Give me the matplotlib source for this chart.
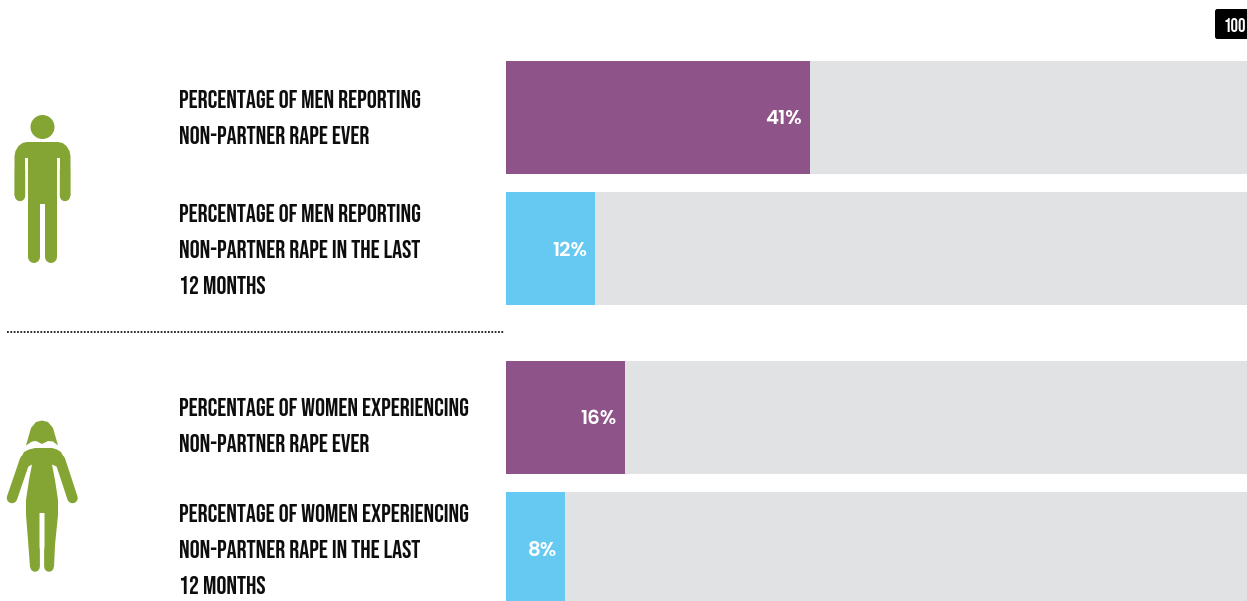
import matplotlib
matplotlib.use("Agg")
import matplotlib.pyplot as plt
from matplotlib.patches import Circle, Polygon, FancyBboxPatch

W, H = 1247, 601

# Data
labels = [
    "PERCENTAGE OF MEN REPORTING\nNON-PARTNER RAPE EVER",
    "PERCENTAGE OF MEN REPORTING\nNON-PARTNER RAPE IN THE LAST\n12 MONTHS",
    "PERCENTAGE OF WOMEN EXPERIENCING\nNON-PARTNER RAPE EVER",
    "PERCENTAGE OF WOMEN EXPERIENCING\nNON-PARTNER RAPE IN THE LAST\n12 MONTHS",
]
values = [41, 12, 16, 8]
axis_max = 100
axis_max_label = "100"

# Style and layout (pixels)
PURPLE, BLUE, GREY, GREEN = "#8E5388", "#65C9F1", "#E1E2E4", "#84A533"
INK = "#0D0D0D"
bar_colors = [PURPLE, BLUE, PURPLE, BLUE]
bar_tops = [61, 192, 361, 492]
bar_bottoms = [174, 305, 474, 601]
value_y = [117.5, 249.5, 417.5, 548.5]
label_tops = [98.5, 213.5, 406.5, 513.5]
LINE_STEP = 36
COND = ["Bebas Neue", "Oswald", "Roboto", "DejaVu Sans"]
ROUND = ["Poppins", "Lato", "DejaVu Sans"]

fig = plt.figure(figsize=(W / 100, H / 100), dpi=100, facecolor="white")

cv = fig.add_axes([0, 0, 1, 1], zorder=1)
cv.set_xlim(0, W)
cv.set_ylim(H, 0)
cv.axis("off")

ax = fig.add_axes([506 / W, 0, (W - 506) / W, 1], zorder=0)
ax.set_xlim(0, axis_max)
ax.set_ylim(H, 0)
ax.axis("off")
for v, c, t, b, vy in zip(values, bar_colors, bar_tops, bar_bottoms, value_y):
    ax.barh((t + b) / 2, axis_max, height=b - t, color=GREY, linewidth=0)
    ax.barh((t + b) / 2, v, height=b - t, color=c, linewidth=0)
    ax.annotate(f"{v}%", (v, vy), xytext=(-5.6, 0), textcoords="offset points",
                ha="right", va="center_baseline", color="white",
                family=ROUND, weight=600, size=14.3)

for text, top in zip(labels, label_tops):
    for i, line in enumerate(text.split("\n")):
        cv.text(179, top + i * LINE_STEP, line, ha="left", va="center_baseline",
                color=INK, family=COND, weight="bold", size=17.9)

cv.plot([7, 504], [331.5, 331.5], color="#1A1A1A", lw=1.3, dashes=(1.0, 0.85), solid_capstyle="butt")

cv.add_patch(FancyBboxPatch((1215, 9), 36, 30, boxstyle="round,pad=0,rounding_size=2.5", fc="black", ec="none"))
cv.text(1234.5, 25, axis_max_label, color="white", ha="center", va="center",
        family=COND, weight="bold", size=13.5)

def px(n):
    return n * 0.72

def limb(x, y, w):
    cv.plot(x, y, color=GREEN, lw=px(w), solid_capstyle="round", solid_joinstyle="round")

# Man icon
cv.add_patch(Circle((42.5, 127), 12, fc=GREEN, ec="none"))
cv.add_patch(Polygon([(14.5, 196), (14.5, 156), (15.5, 151), (18.5, 146), (22.5, 143), (27, 142),
                      (58, 142), (62.5, 143), (66.5, 146), (69.5, 151), (70.5, 156),
                      (70.5, 196), (60, 196), (60, 158), (57, 158), (57, 257), (45, 257), (45, 204),
                      (40, 204), (40, 257), (28, 257), (28, 158), (25, 158), (25, 196)],
                     closed=True, fc=GREEN, ec="none"))
limb([19.7, 19.7], [170, 196], 10.4)
limb([65.3, 65.3], [170, 196], 10.4)
limb([34, 34], [240, 257], 12)
limb([51, 51], [240, 257], 12)

# Woman icon
cv.add_patch(Polygon([(26, 445.5), (31, 428), (36, 422), (42, 420.5), (48, 422), (53, 428), (58, 445.5),
                      (53, 441.5), (48, 441), (42, 444), (36, 441), (32, 441.5)],
                     closed=True, fc=GREEN, ec="none"))
cv.add_patch(Polygon([(21, 458), (24, 452), (29, 449.5), (35, 448), (52, 448), (57, 449.5), (61, 452), (64, 458),
                      (64, 470), (52, 464.5),
                      (55, 480), (58, 500), (58, 515), (55, 545), (54, 567), (44.5, 567), (44.5, 513),
                      (39.5, 513), (39.5, 567), (30, 567), (28, 540), (26, 515), (26, 500), (29, 480),
                      (32, 464.5), (22, 470)],
                     closed=True, fc=GREEN, ec="none"))
limb([25, 12], [460, 498], 10.5)
limb([60, 72.5], [460, 498], 10.5)
limb([34.8, 34.8], [550, 567], 9.5)
limb([49.2, 49.2], [550, 567], 9.5)

fig.savefig("out.png", dpi=100, facecolor="white")
